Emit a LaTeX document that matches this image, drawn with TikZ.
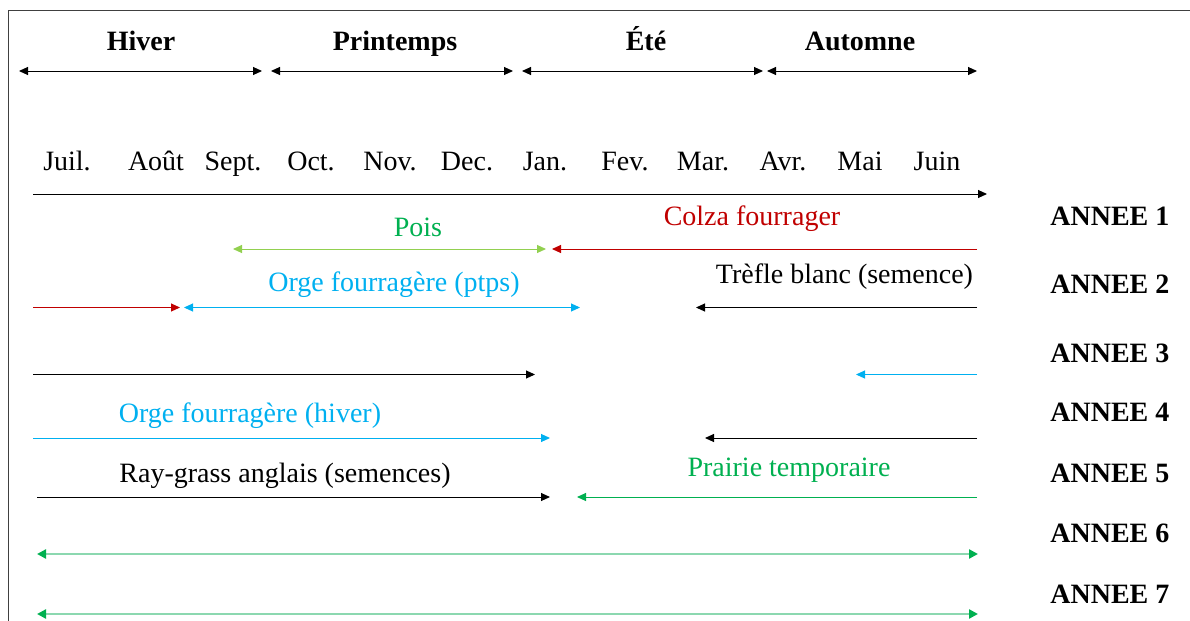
\documentclass[tikz,border=0pt]{standalone}
\usepackage{fontspec}
\setmainfont{Liberation Serif}
\usepackage{tikz}
\usetikzlibrary{arrows.meta}
\definecolor{rotred}{RGB}{192,0,0}
\definecolor{rotblue}{RGB}{0,176,240}
\definecolor{rotgreen}{RGB}{0,176,80}
\definecolor{rotlime}{RGB}{146,208,80}
\definecolor{rotmint}{RGB}{140,216,176}
\definecolor{rotgray}{RGB}{64,64,64}

\begin{document}
\begin{tikzpicture}[
  x=0.5pt, y=-0.5pt,
  lab/.style={font=\fontsize{14}{16}\selectfont, anchor=base, inner sep=0pt, text=#1},
  lab/.default=black,
  season/.style={font=\fontsize{14}{16}\selectfont\bfseries, anchor=base, inner sep=0pt},
  year/.style={font=\fontsize{14}{16}\selectfont\bfseries, anchor=base west, inner sep=0pt},
  span/.style={draw=#1, line width=0.5pt, -{Triangle[length=4.5pt, width=4pt]}},
  both/.style={draw=#1, line width=0.5pt, {Triangle[length=4.5pt, width=4pt]}-{Triangle[length=4.5pt, width=4pt]}},
  grass/.style={draw=rotmint, line width=1.2pt, {Triangle[length=4.5pt, width=4.5pt, color=rotgreen]}-{Triangle[length=4.5pt, width=4.5pt, color=rotgreen]}}
]
\useasboundingbox (0,0) rectangle (1190,621);

% Frame
\draw[rotgray, line width=0.75pt] (8.3,625) -- (8.3,10.7) -- (1195,10.7);

% Seasons
\foreach \name/\a/\b/\c [count=\i] in {Hiver/19/262/141, Printemps/271/513/395, Été/522/763/646, Automne/767/977/860} {
  \node[season] (sea\i) at (\c,50.7) {\name};
  \coordinate (sl\i) at (\a,71);
  \coordinate (sr\i) at (\b,71);
  \draw[both=black] (sl\i) -- (sr\i);
}

% Months and time axis
\foreach \m/\x [count=\i] in {Juil./67, Août/156, Sept./233, Oct./311, Nov./390, Dec./467, Jan./545, Fev./625, Mar./703, Avr./783, Mai/860, Juin/937}
  \node[lab] (mon\i) at (\x,170.7) {\m};
\coordinate (ax0) at (33,194);
\coordinate (ax1) at (987,194);
\draw[span=black] (ax0) -- (ax1);

% Years
\foreach \y [count=\i] in {225, 293.3, 362.7, 421.7, 482.7, 542.7, 603.3}
  \node[year] (an\i) at (1050,\y) {ANNEE \i};

% Year 1
\node[lab=rotgreen] (pois) at (418,236) {Pois};
\coordinate (pois0) at (233,249);
\coordinate (pois1) at (546,249);
\draw[both=rotlime] (pois0) -- (pois1);
\node[lab=rotred] (colza) at (752,225) {Colza fourrager};
\coordinate (colza0) at (977,249);
\coordinate (colza1) at (552,249);
\draw[span=rotred] (colza0) -- (colza1);

% Year 2
\coordinate (colza2) at (33,307.5);
\coordinate (colza3) at (180,307.5);
\draw[span=rotred] (colza2) -- (colza3);
\node[lab=rotblue] (orgep) at (394,291.7) {Orge fourragère (ptps)};
\coordinate (orgep0) at (184,307.5);
\coordinate (orgep1) at (580,307.5);
\draw[both=rotblue] (orgep0) -- (orgep1);
\node[lab] (trefle) at (844.5,283.3) {Trèfle blanc (semence)};
\coordinate (trefle0) at (977,307.5);
\coordinate (trefle1) at (696,307.5);
\draw[span=black] (trefle0) -- (trefle1);

% Year 3
\coordinate (trefle2) at (33,374.5);
\coordinate (trefle3) at (535,374.5);
\draw[span=black] (trefle2) -- (trefle3);
\coordinate (orgeh0) at (977,374.5);
\coordinate (orgeh1) at (856,374.5);
\draw[span=rotblue] (orgeh0) -- (orgeh1);

% Year 4
\node[lab=rotblue] (orgeh) at (250,422.7) {Orge fourragère (hiver)};
\coordinate (orgeh2) at (33,438);
\coordinate (orgeh3) at (550,438);
\draw[span=rotblue] (orgeh2) -- (orgeh3);
\coordinate (ray0) at (977,438);
\coordinate (ray1) at (705,438);
\draw[span=black] (ray0) -- (ray1);

% Year 5
\node[lab] (ray) at (285,482.7) {Ray-grass anglais (semences)};
\coordinate (ray2) at (37,497);
\coordinate (ray3) at (550,497);
\draw[span=black] (ray2) -- (ray3);
\node[lab=rotgreen] (prairie) at (789,476.7) {Prairie temporaire};
\coordinate (prairie0) at (977,497);
\coordinate (prairie1) at (577,497);
\draw[span=rotgreen] (prairie0) -- (prairie1);

% Years 6 and 7
\coordinate (prairie2) at (37,554);
\coordinate (prairie3) at (978,554);
\draw[grass] (prairie2) -- (prairie3);
\coordinate (prairie4) at (37,614);
\coordinate (prairie5) at (978,614);
\draw[grass] (prairie4) -- (prairie5);

\end{tikzpicture}
\end{document}
